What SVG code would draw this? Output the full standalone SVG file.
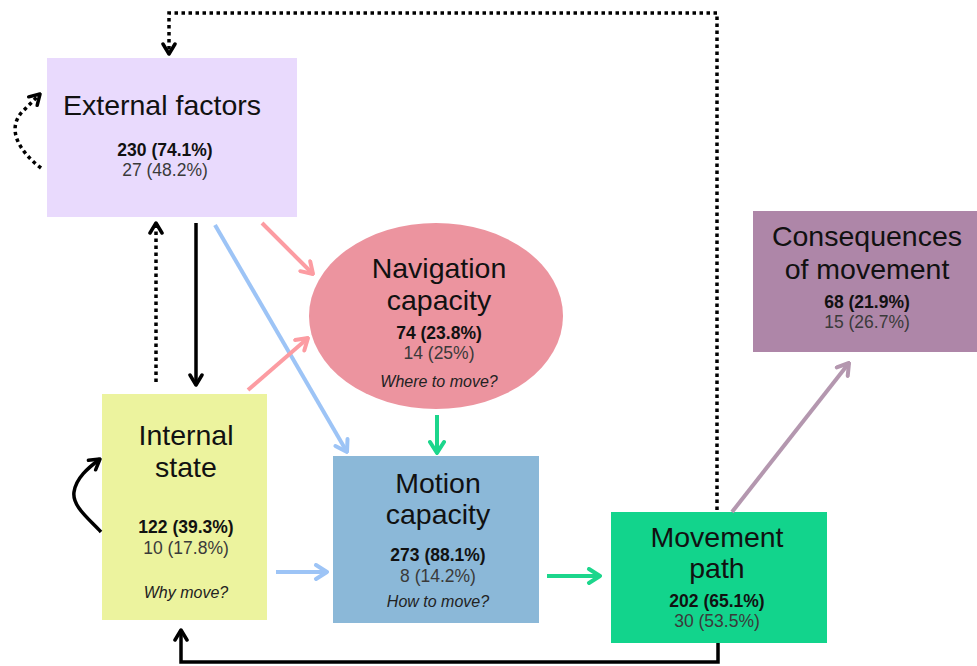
<svg xmlns="http://www.w3.org/2000/svg" width="977" height="666" viewBox="0 0 977 666">
<style>
text{font-family:"Liberation Sans",Arial,sans-serif;text-anchor:middle}
.t{font-size:28.5px;fill:#111}
.b{font-size:17.5px;font-weight:bold;fill:#111}
.r{font-size:17.5px;fill:#3a3a3a}
.i{font-size:16px;font-style:italic;fill:#222}
.blk{fill:none;stroke:#000;stroke-width:3.5}
.dot{fill:none;stroke:#000;stroke-width:3.5;stroke-dasharray:3.5 3.5}
.pink{fill:none;stroke:#FC9CA2;stroke-width:4}
.blue{fill:none;stroke:#9DC4F6;stroke-width:4}
.green{fill:none;stroke:#1CD68C;stroke-width:4}
.mauve{fill:none;stroke:#B497AF;stroke-width:4}
</style>
<defs>
<marker id="aK" markerUnits="userSpaceOnUse" markerWidth="16" markerHeight="16" viewBox="0 0 16 16" refX="14" refY="8" orient="auto"><path d="M4,2 L14,8 L4,14" fill="none" stroke="#000" stroke-width="3.5" stroke-linecap="round" stroke-linejoin="round"/></marker>
<marker id="aP" markerUnits="userSpaceOnUse" markerWidth="18" markerHeight="18" viewBox="0 0 18 18" refX="16" refY="9" orient="auto"><path d="M5,2 L16,9 L5,16" fill="none" stroke="#FC9CA2" stroke-width="4" stroke-linecap="round" stroke-linejoin="round"/></marker>
<marker id="aB" markerUnits="userSpaceOnUse" markerWidth="18" markerHeight="18" viewBox="0 0 18 18" refX="16" refY="9" orient="auto"><path d="M5,2 L16,9 L5,16" fill="none" stroke="#9DC4F6" stroke-width="4" stroke-linecap="round" stroke-linejoin="round"/></marker>
<marker id="aG" markerUnits="userSpaceOnUse" markerWidth="18" markerHeight="18" viewBox="0 0 18 18" refX="16" refY="9" orient="auto"><path d="M5,2 L16,9 L5,16" fill="none" stroke="#1CD68C" stroke-width="4" stroke-linecap="round" stroke-linejoin="round"/></marker>
<marker id="aM" markerUnits="userSpaceOnUse" markerWidth="18" markerHeight="18" viewBox="0 0 18 18" refX="16" refY="9" orient="auto"><path d="M5,2 L16,9 L5,16" fill="none" stroke="#B497AF" stroke-width="4" stroke-linecap="round" stroke-linejoin="round"/></marker>
</defs>

<g id="external-factors">
<rect x="47" y="58" width="250" height="159" fill="#E9DAFD"/>
<text class="t" x="162" y="115">External factors</text>
<text class="b" x="165" y="156">230 (74.1%)</text>
<text class="r" x="165" y="176">27 (48.2%)</text>
</g>

<g id="internal-state">
<rect x="102" y="394" width="165" height="226" fill="#ECF39E"/>
<text class="t" x="186" y="445">Internal</text>
<text class="t" x="186" y="477">state</text>
<text class="b" x="186" y="533">122 (39.3%)</text>
<text class="r" x="186" y="554">10 (17.8%)</text>
<text class="i" x="186" y="598">Why move?</text>
</g>

<g id="navigation-capacity">
<ellipse cx="436" cy="316" rx="127" ry="93" fill="#EC949F"/>
<text class="t" x="439" y="278">Navigation</text>
<text class="t" x="439" y="310">capacity</text>
<text class="b" x="439" y="339">74 (23.8%)</text>
<text class="r" x="439" y="359">14 (25%)</text>
<text class="i" x="439" y="387">Where to move?</text>
</g>

<g id="motion-capacity">
<rect x="333" y="456" width="206" height="167" fill="#8BB8D8"/>
<text class="t" x="438" y="493">Motion</text>
<text class="t" x="438" y="524">capacity</text>
<text class="b" x="438" y="561">273 (88.1%)</text>
<text class="r" x="438" y="582">8 (14.2%)</text>
<text class="i" x="438" y="607">How to move?</text>
</g>

<g id="movement-path">
<rect x="611" y="512" width="216" height="131" fill="#12D48C"/>
<text class="t" x="717" y="547">Movement</text>
<text class="t" x="717" y="578">path</text>
<text class="b" x="717" y="607">202 (65.1%)</text>
<text class="r" x="717" y="627">30 (53.5%)</text>
</g>

<g id="consequences-of-movement">
<rect x="753" y="211" width="224" height="141" fill="#AE86A8"/>
<text class="t" x="867" y="246">Consequences</text>
<text class="t" x="867" y="279">of movement</text>
<text class="b" x="867" y="308">68 (21.9%)</text>
<text class="r" x="867" y="328">15 (26.7%)</text>
</g>

<g id="connectors">
<path class="dot" d="M717,510 V13 H169 V54" marker-end="url(#aK)"/>
<path class="dot" d="M41,168 C20,152 6,130 22,112 L40,94" marker-end="url(#aK)"/>
<path class="dot" d="M156,382 V223" marker-end="url(#aK)"/>
<path class="blk" d="M196,223 V385" marker-end="url(#aK)"/>
<path class="blue" d="M215,225 L347,452" marker-end="url(#aB)"/>
<path class="pink" d="M262,223 L313,274" marker-end="url(#aP)"/>
<path class="pink" d="M248,390 L308,338" marker-end="url(#aP)"/>
<path class="green" d="M437,415 V453" marker-end="url(#aG)"/>
<path class="blue" d="M276,572 H327" marker-end="url(#aB)"/>
<path class="green" d="M547,576 H600" marker-end="url(#aG)"/>
<path class="mauve" d="M732,512 L849,363" marker-end="url(#aM)"/>
<path class="blk" d="M718,643 V662 H181 V630" marker-end="url(#aK)"/>
<path class="blk" d="M101,532 C88,518 72,506 74,492 C76,478 88,468 100,459" marker-end="url(#aK)"/>
</g>
</svg>
